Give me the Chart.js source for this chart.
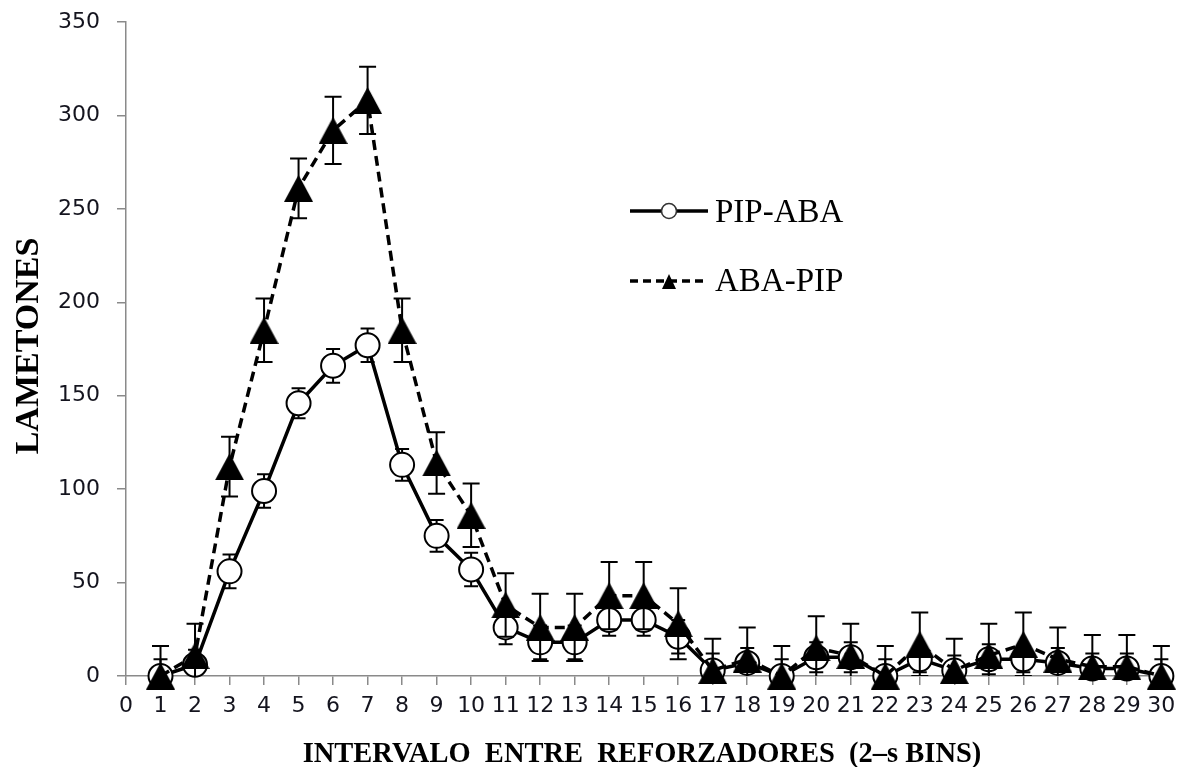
<!DOCTYPE html>
<html>
<head>
<meta charset="utf-8">
<script src="https://cdn.jsdelivr.net/npm/chart.js@4.4.1/dist/chart.umd.min.js"></script>
<style>
  html, body { margin: 0; padding: 0; background: #ffffff; }
  #wrap { width: 1178px; height: 767px; position: relative; }
</style>
</head>
<body>
<div id="wrap"><canvas id="c" width="1178" height="767"></canvas></div>
<script>
// ---------- data ----------
const bins = [1,2,3,4,5,6,7,8,9,10,11,12,13,14,15,16,17,18,19,20,21,22,23,24,25,26,27,28,29,30];
const pipAba    = [0,6,56,99,146,166,177,113,75,57,26,18,18,30,30,21,3,7,0,10,10,0,9,3,9,9,7,4,4,0];
const pipAbaErr = [9,8,9,9,8,9,9,8.5,8.5,9,9,9,9,8.5,8.5,9,9,8,9,8,8,9,7,8,8,7,8,8,8,9];
const abaPip    = [0,11,112,185,261,292,308,185,114,86,38,26,26,43,43,28,3,9,0,15,11,0,17,3,11,17,9,5,5,0];
const abaPipErr = [16,17,16,17,16,18,18,17,16.5,17,17,18,18,18,18,19,17,17,16,17,17,16,17,17,17,17,17,17,17,16];
const xTicks = [0,1,2,3,4,5,6,7,8,9,10,11,12,13,14,15,16,17,18,19,20,21,22,23,24,25,26,27,28,29,30];
const yTicks = [0,50,100,150,200,250,300,350];
const seriesNames = ['PIP-ABA', 'ABA-PIP'];
const xTitle = 'INTERVALO  ENTRE  REFORZADORES  (2\u2013s BINS)';
const yTitle = 'LAMETONES';

// ---------- marker image for triangles ----------
function makeTriangle(w, h) {
  const c = document.createElement('canvas');
  c.width = w; c.height = h;
  const g = c.getContext('2d');
  g.fillStyle = '#000';
  g.beginPath();
  g.moveTo(w / 2, 0);
  g.lineTo(w, h);
  g.lineTo(0, h);
  g.closePath();
  g.fill();
  return c;
}
const triImg = makeTriangle(29, 27);

const AXIS = '#8a8a8a';
const SERIF = '"Liberation Serif", "Times New Roman", serif';
const SANS = '"DejaVu Sans", Verdana, sans-serif';

function noAutoPad(s) {
  s.paddingTop = 0; s.paddingBottom = 0; s.paddingLeft = 0; s.paddingRight = 0;
}

// ---------- plugins ----------
const errorBars = {
  id: 'errorBars',
  beforeDatasetDraw(chart, args) {
    const ds = chart.data.datasets[args.index];
    const errs = ds.errorValues;
    if (!errs) return;
    const ys = chart.scales.y;
    const ca = chart.chartArea;
    const ctx = chart.ctx;
    ctx.save();
    ctx.beginPath();
    ctx.rect(ca.left, ca.top - 20, ca.right - ca.left, ca.bottom - ca.top + 20);
    ctx.clip();
    ctx.strokeStyle = '#000';
    ctx.lineWidth = 2;
    const half = ds.capHalf || 8;
    args.meta.data.forEach((pt, i) => {
      const v = ds.data[i].y;
      const e = errs[i];
      const yHi = ys.getPixelForValue(v + e);
      const yLo = ys.getPixelForValue(v - e);
      const x = pt.x;
      ctx.beginPath();
      ctx.moveTo(x, yHi); ctx.lineTo(x, yLo);
      ctx.moveTo(x - half, yHi); ctx.lineTo(x + half, yHi);
      ctx.moveTo(x - half, yLo); ctx.lineTo(x + half, yLo);
      ctx.stroke();
    });
    ctx.restore();
  }
};

const decor = {
  id: 'decor',
  afterDraw(chart) {
    const ctx = chart.ctx;
    ctx.save();
    // legend row 1 (PIP-ABA)
    ctx.strokeStyle = '#000';
    ctx.lineWidth = 3.5;
    ctx.setLineDash([]);
    ctx.beginPath(); ctx.moveTo(630, 211); ctx.lineTo(708, 211); ctx.stroke();
    ctx.beginPath(); ctx.arc(669, 211, 7.5, 0, Math.PI * 2);
    ctx.fillStyle = '#fff'; ctx.fill();
    ctx.lineWidth = 1.6; ctx.strokeStyle = '#333'; ctx.stroke();
    // legend row 2 (ABA-PIP)
    ctx.strokeStyle = '#000';
    ctx.lineWidth = 3.5;
    ctx.setLineDash([8, 5]);
    ctx.beginPath(); ctx.moveTo(630, 281); ctx.lineTo(708, 281); ctx.stroke();
    ctx.setLineDash([]);
    ctx.fillStyle = '#000';
    ctx.beginPath(); ctx.moveTo(669, 274); ctx.lineTo(676, 289); ctx.lineTo(662, 289); ctx.closePath(); ctx.fill();
    ctx.font = '33px ' + SERIF;
    ctx.textAlign = 'left';
    ctx.textBaseline = 'alphabetic';
    ctx.fillStyle = '#000';
    ctx.fillText(seriesNames[0], 715, 222);
    ctx.fillText(seriesNames[1], 715, 291);
    // axis titles
    ctx.font = 'bold 28.5px ' + SERIF;
    ctx.textAlign = 'center';
    ctx.fillText(xTitle, 642, 762);
    ctx.save();
    ctx.translate(38, 346);
    ctx.rotate(-Math.PI / 2);
    ctx.font = 'bold 34px ' + SERIF;
    ctx.textAlign = 'center';
    ctx.textBaseline = 'alphabetic';
    ctx.fillText(yTitle, 0, 0);
    ctx.restore();
    ctx.restore();
  }
};

// ---------- chart ----------
new Chart(document.getElementById('c'), {
  type: 'line',
  data: {
    datasets: [
      {
        label: seriesNames[1],
        data: bins.map((b, i) => ({ x: b, y: abaPip[i] })),
        errorValues: abaPipErr,
        capHalf: 8.5,
        borderColor: '#000',
        borderWidth: 3.5,
        borderDash: [10, 6],
        pointStyle: triImg,
        pointRadius: 14,
        pointHoverRadius: 14,
        tension: 0,
        clip: false,
        order: 0
      },
      {
        label: seriesNames[0],
        data: bins.map((b, i) => ({ x: b, y: pipAba[i] })),
        errorValues: pipAbaErr,
        capHalf: 7,
        borderColor: '#000',
        borderWidth: 3.5,
        pointStyle: 'circle',
        pointRadius: 12,
        pointHoverRadius: 12,
        pointBackgroundColor: '#fff',
        pointBorderColor: '#000',
        pointBorderWidth: 2,
        tension: 0,
        clip: false,
        order: 1
      }
    ]
  },
  options: {
    responsive: false,
    animation: false,
    events: [],
    layout: { autoPadding: false, padding: { left: 0, top: 22, right: 8, bottom: 0 } },
    plugins: { legend: { display: false }, tooltip: { enabled: false } },
    scales: {
      x: {
        type: 'linear',
        min: 0,
        max: 30.25,
        afterBuildTicks(s) { s.ticks = xTicks.map(v => ({ value: v })); },
        afterFit(s) { s.height = 91; noAutoPad(s); },
        ticks: {
          includeBounds: false,
          autoSkip: false,
          maxRotation: 0,
          color: '#14141e',
          padding: 8,
          font: { family: SANS, size: 22 },
          callback: v => String(v)
        },
        grid: { display: true, drawOnChartArea: false, drawTicks: true, tickLength: 9, color: AXIS, lineWidth: 1.5 },
        border: { display: true, color: AXIS, width: 1.5 }
      },
      y: {
        type: 'linear',
        min: 0,
        max: 350,
        afterBuildTicks(s) { s.ticks = yTicks.map(v => ({ value: v })); },
        afterFit(s) { s.width = 126; noAutoPad(s); },
        ticks: {
          color: '#14141e',
          padding: 17,
          font: { family: SANS, size: 22 },
          callback: v => String(v)
        },
        grid: { display: true, drawOnChartArea: false, drawTicks: true, tickLength: 9, color: AXIS, lineWidth: 1.5 },
        border: { display: true, color: AXIS, width: 1.5 }
      }
    }
  },
  plugins: [errorBars, decor]
});
</script>
</body>
</html>
